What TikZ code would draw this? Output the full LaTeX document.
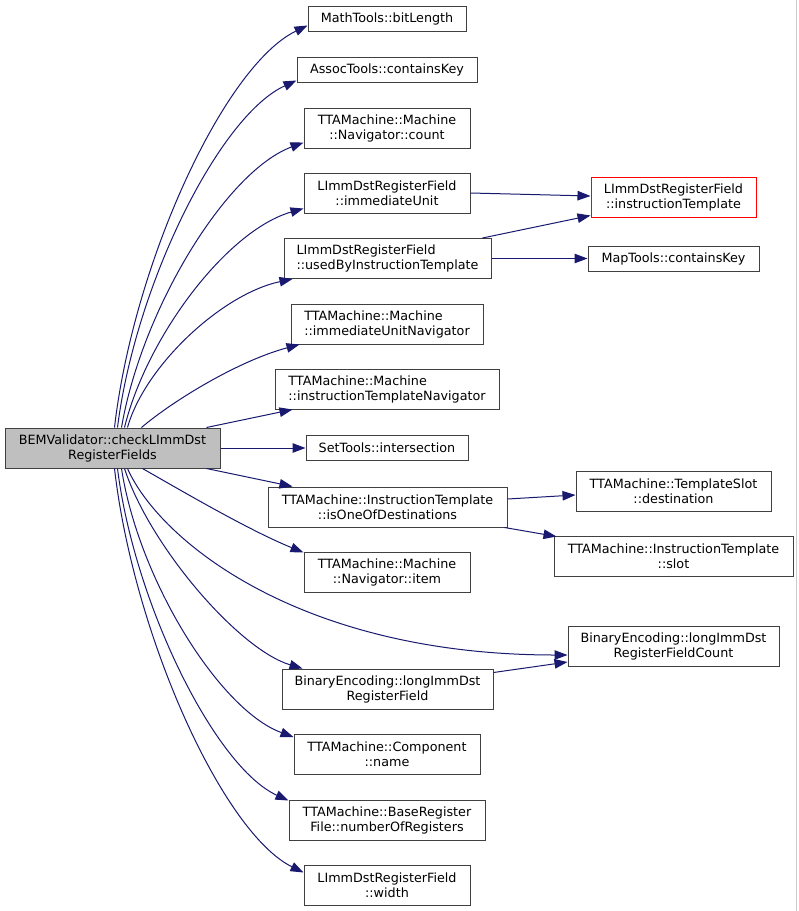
\documentclass[tikz,border=0pt]{standalone}
\usepackage{fontspec}
\setmainfont{DejaVu Sans}
\usetikzlibrary{arrows.meta,calc}
\definecolor{edgeblue}{HTML}{191970}
\definecolor{boxline}{HTML}{404040}
\definecolor{rootfill}{HTML}{BFBFBF}
\begin{document}
\begin{tikzpicture}[x=1pt,y=-1pt,
  box/.style={draw=boxline, line width=1pt, inner sep=0pt, align=center,
    font=\fontsize{12.75}{15}\selectfont, minimum height=40pt},
  onebox/.style={box, minimum height=25pt},
  leftbox/.style={box, align=left},
  rootbox/.style={box, fill=rootfill},
  redbox/.style={box, draw=red},
  edge/.style={draw=edgeblue, line width=1pt, -{Triangle[length=13pt,width=9.5pt]}}
]
\useasboundingbox (0,0) rectangle (799,911);
\fill[white] (0,0) rectangle (799,911);
\draw[gray!40, line width=1pt] (796,0) -- (796,911);

% root
\node[rootbox, minimum width=215pt] (root) at (112.5,448) {BEMValidator::checkLImmDst\\RegisterFields};

% middle column
\node[onebox, minimum width=158pt] (bit) at (387,18.5) {MathTools::bitLength};
\node[onebox, minimum width=180pt] (assoc) at (387,69.5) {AssocTools::containsKey};
\node[box, minimum width=166pt] (count) at (387,128) {TTAMachine::Machine\\::Navigator::count};
\node[box, minimum width=166pt] (iu) at (387,193) {LImmDstRegisterField\\::immediateUnit};
\node[leftbox, minimum width=207pt] (used) at (387.5,258.5) {LImmDstRegisterField\\::usedByInstructionTemplate};
\node[leftbox, minimum width=192pt] (iun) at (387,324) {TTAMachine::Machine\\::immediateUnitNavigator};
\node[leftbox, minimum width=224pt] (itn) at (387,389) {TTAMachine::Machine\\::instructionTemplateNavigator};
\node[onebox, minimum width=162pt] (set) at (387,448) {SetTools::intersection};
\node[box, minimum width=239pt] (iod) at (387.5,507) {TTAMachine::InstructionTemplate\\::isOneOfDestinations};
\node[box, minimum width=166pt] (item) at (387,572) {TTAMachine::Machine\\::Navigator::item};
\node[box, minimum width=211pt] (lid) at (387.5,689) {BinaryEncoding::longImmDst\\RegisterField};
\node[box, minimum width=186pt] (name) at (387,754.5) {TTAMachine::Component\\::name};
\node[box, minimum width=196pt] (nor) at (387,820) {TTAMachine::BaseRegister\\File::numberOfRegisters};
\node[box, minimum width=166pt] (width) at (387,885) {LImmDstRegisterField\\::width};

% right column
\node[redbox, minimum width=165pt] (it) at (673.5,197) {LImmDstRegisterField\\::instructionTemplate};
\node[onebox, minimum width=171pt] (map) at (673.5,258.5) {MapTools::containsKey};
\node[box, minimum width=195pt] (dest) at (673.5,491) {TTAMachine::TemplateSlot\\::destination};
\node[box, minimum width=239pt] (slot) at (673.5,556) {TTAMachine::InstructionTemplate\\::slot};
\node[box, minimum width=211pt] (cnt) at (673.5,646.5) {BinaryEncoding::longImmDst\\RegisterFieldCount};

% edges from root (top)
\draw[edge] ($(root.north west)+(110,0)$) .. controls +(19,-165) and +(-83,40) .. ($(bit.south west)+(0,-6)$);
\draw[edge] ($(root.north west)+(113,0)$) .. controls +(18,-143) and +(-77,35) .. ($(assoc.south west)+(0,-2)$);
\draw[edge] ($(root.north west)+(117,0)$) .. controls +(20,-117) and +(-78,29) .. ($(count.south west)+(0,-6)$);
\draw[edge] ($(root.north west)+(120,0)$) .. controls +(22,-90) and +(-77,22) .. ($(iu.south west)+(0,-5)$);
\draw[edge] ($(root.north west)+(123,0)$) .. controls +(17,-61) and +(-71,15) .. ($(used.south west)+(9,0)$);
\draw[edge] ($(root.north west)+(137,0)$) .. controls +(33,-28) and +(-60,16) .. ($(iun.south west)+(9,0)$);
\draw[edge] ($(root.north west)+(202,0)$) -- ($(itn.south west)+(18,0)$);
\draw[edge] (root.east) -- (set.west);
% edges from root (bottom)
\draw[edge] ($(root.south west)+(202,0)$) -- ($(iod.north west)+(25,0)$);
\draw[edge] ($(root.south west)+(138,0)$) .. controls +(42,24) and +(-54,-22) .. ($(item.north west)+(0,1)$);
\draw[edge] ($(root.south west)+(123,0)$) .. controls +(32,72) and +(-268,0) .. ($(cnt.west)+(0,8.5)$);
\draw[edge] ($(root.south west)+(120,0)$) .. controls +(25,77) and +(-64,-19) .. ($(lid.north west)+(21,0)$);
\draw[edge] ($(root.south west)+(117,0)$) .. controls +(17,111) and +(-74,-27) .. ($(name.north west)+(0,3)$);
\draw[edge] ($(root.south west)+(113,0)$) .. controls +(17,136) and +(-73,-33) .. ($(nor.north west)+(0,1)$);
\draw[edge] ($(root.south west)+(110,0)$) .. controls +(19,166) and +(-81,-40) .. ($(width.north west)+(0,8)$);

% second level
\draw[edge] (iu.east) -- ($(it.west)+(0,-1)$);
\draw[edge] ($(used.north east)+(-9,0)$) -- ($(it.south west)+(0,-2)$);
\draw[edge] (used.east) -- (map.west);
\draw[edge] ($(iod.east)+(0,-8)$) -- ($(dest.west)+(0,4)$);
\draw[edge] ($(iod.south east)+(-3,0)$) -- ($(slot.north west)+(3,1)$);
\draw[edge] ($(lid.north east)+(0,4)$) -- ($(cnt.west)+(0,15.5)$);
\end{tikzpicture}
\end{document}
